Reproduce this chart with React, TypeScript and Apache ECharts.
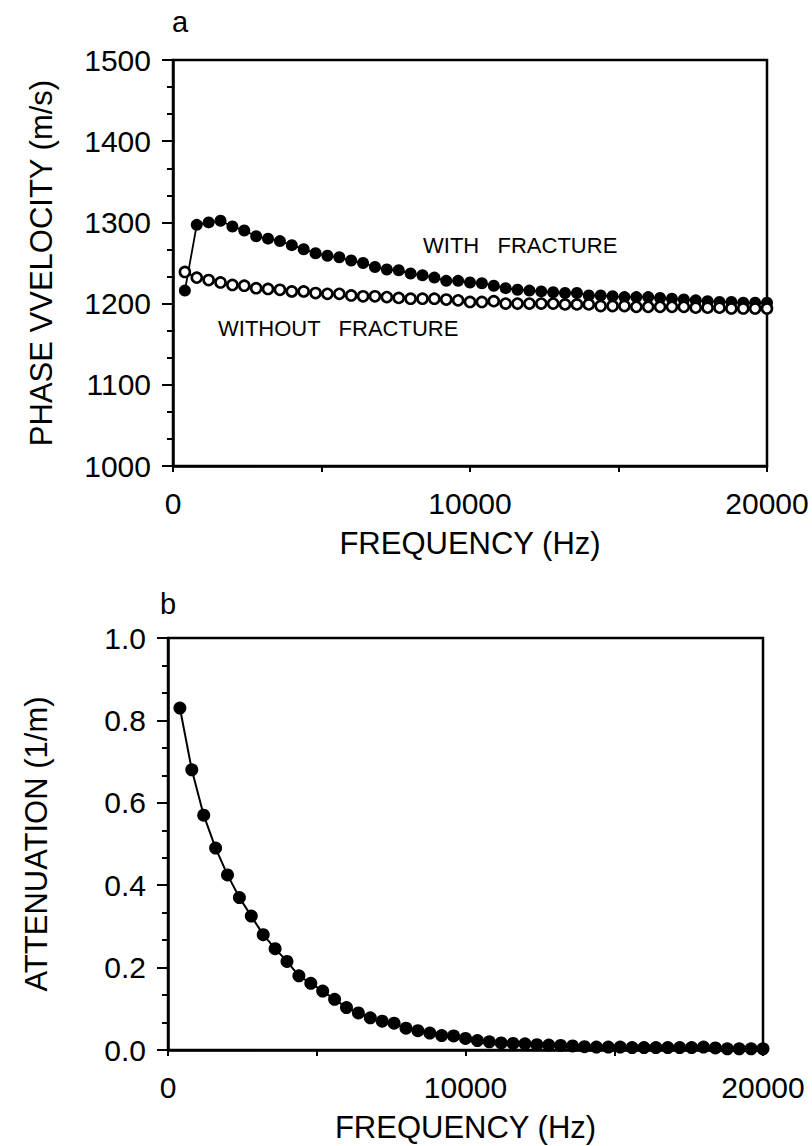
import React, { useEffect, useRef } from "react";
import * as echarts from "echarts";

const freqHz = [
  400, 800, 1200, 1600, 2000, 2400, 2800, 3200, 3600, 4000,
  4400, 4800, 5200, 5600, 6000, 6400, 6800, 7200, 7600, 8000,
  8400, 8800, 9200, 9600, 10000, 10400, 10800, 11200, 11600, 12000,
  12400, 12800, 13200, 13600, 14000, 14400, 14800, 15200, 15600, 16000,
  16400, 16800, 17200, 17600, 18000, 18400, 18800, 19200, 19600, 20000,
];

const withFracture = [
  1216, 1297, 1300, 1302, 1295, 1290, 1283, 1280, 1277, 1272,
  1267, 1262, 1259, 1257, 1253, 1250, 1245, 1242, 1241, 1237,
  1235, 1232, 1228, 1228, 1226, 1225, 1222, 1219, 1217, 1216,
  1215, 1214, 1213, 1213, 1210, 1210, 1209, 1208, 1208, 1208,
  1207, 1206, 1205, 1204, 1203, 1202, 1202, 1201, 1201, 1201,
];

const withoutFracture = [
  1239, 1232, 1229, 1226, 1223, 1222, 1219, 1218, 1217, 1215,
  1215, 1213, 1212, 1212, 1210, 1209, 1209, 1208, 1207, 1206,
  1206, 1206, 1205, 1204, 1202, 1202, 1203, 1200, 1200, 1200,
  1200, 1200, 1199, 1199, 1199, 1197, 1197, 1197, 1196, 1196,
  1196, 1196, 1196, 1195, 1195, 1195, 1194, 1194, 1194, 1194,
];

const attenuation = [
  0.83, 0.68, 0.57, 0.49, 0.425, 0.37, 0.325, 0.28, 0.246, 0.215,
  0.18, 0.162, 0.143, 0.123, 0.103, 0.09, 0.078, 0.07, 0.065, 0.053,
  0.047, 0.041, 0.035, 0.034, 0.028, 0.023, 0.02, 0.017, 0.016, 0.015,
  0.013, 0.012, 0.011, 0.01, 0.008, 0.007, 0.007, 0.007, 0.006, 0.006,
  0.006, 0.006, 0.006, 0.006, 0.007, 0.005, 0.003, 0.003, 0.003, 0.003,
];

const xTickLabels = ["0", "10000", "20000"];
const panelLabels = ["a", "b"];
const curveLabels = ["WITH   FRACTURE", "WITHOUT   FRACTURE"];

const FONT = "'Liberation Sans', Arial, Helvetica, sans-serif";
const INK = "#000";

function xAxisFor(gridIndex: number) {
  return {
    type: "value",
    gridIndex,
    min: 0,
    max: 20000,
    interval: 5000,
    name: "FREQUENCY (Hz)",
    nameLocation: "middle",
    nameGap: 62,
    nameTextStyle: { fontSize: 31, color: INK, fontFamily: FONT },
    axisLine: { show: true, lineStyle: { color: INK, width: 2.5 } },
    axisTick: { show: true, inside: false, length: 6, lineStyle: { color: INK, width: 2 } },
    axisLabel: {
      fontSize: 30,
      color: INK,
      fontFamily: FONT,
      margin: 22,
      formatter: (v: number) => (xTickLabels.includes(String(v)) ? String(v) : ""),
    },
    splitLine: { show: false },
  };
}

function yAxisFor(gridIndex: number, name: string, min: number, max: number, interval: number, fmt: (v: number) => string) {
  return {
    type: "value",
    gridIndex,
    position: "left",
    min,
    max,
    interval,
    name,
    nameLocation: "middle",
    nameGap: 116,
    nameTextStyle: { fontSize: 31, color: INK, fontFamily: FONT },
    axisLine: { show: true, lineStyle: { color: INK, width: 2.5 } },
    axisTick: { show: true, inside: false, length: 11, lineStyle: { color: INK, width: 2 } },
    minorTick: { show: true, splitNumber: 3, length: 6, lineStyle: { color: INK, width: 2 } },
    axisLabel: { fontSize: 30, color: INK, fontFamily: FONT, margin: 22, formatter: fmt },
    splitLine: { show: false },
    minorSplitLine: { show: false },
  };
}

export default function App() {
  const ref = useRef<HTMLDivElement>(null);

  useEffect(() => {
    if (!ref.current) return;
    const chart = echarts.init(ref.current, undefined, { renderer: "svg" });
    const top = freqHz.map((f, i) => [f, withFracture[i]]);
    const topOpen = freqHz.map((f, i) => [f, withoutFracture[i]]);
    const bottom = freqHz.map((f, i) => [f, attenuation[i]]);

    chart.setOption({
      animation: false,
      backgroundColor: "#fff",
      textStyle: { fontFamily: FONT, color: INK },
      grid: [
        { left: 173, top: 60, width: 594, height: 406, show: true, borderColor: INK, borderWidth: 2.5, backgroundColor: "transparent" },
        { left: 168, top: 638, width: 595, height: 412, show: true, borderColor: INK, borderWidth: 2.5, backgroundColor: "transparent" },
      ],
      xAxis: [xAxisFor(0), xAxisFor(1)],
      yAxis: [
        yAxisFor(0, "PHASE VVELOCITY (m/s)", 1000, 1500, 100, (v: number) => String(v)),
        yAxisFor(1, "ATTENUATION (1/m)", 0, 1, 0.2, (v: number) => v.toFixed(1)),
      ],
      series: [
        {
          type: "line",
          name: "WITH FRACTURE",
          xAxisIndex: 0,
          yAxisIndex: 0,
          data: top,
          symbol: "circle",
          symbolSize: 12,
          showAllSymbol: true,
          itemStyle: { color: INK, borderColor: INK, borderWidth: 0 },
          lineStyle: { color: INK, width: 1.8 },
        },
        {
          type: "line",
          name: "WITHOUT FRACTURE",
          xAxisIndex: 0,
          yAxisIndex: 0,
          data: topOpen,
          symbol: "circle",
          symbolSize: 10,
          showAllSymbol: true,
          itemStyle: { color: "#fff", borderColor: INK, borderWidth: 2.6 },
          lineStyle: { color: INK, width: 1.8 },
        },
        {
          type: "line",
          name: "ATTENUATION",
          xAxisIndex: 1,
          yAxisIndex: 1,
          data: bottom,
          symbol: "circle",
          symbolSize: 13,
          showAllSymbol: true,
          itemStyle: { color: INK, borderWidth: 0 },
          lineStyle: { color: INK, width: 2 },
        },
      ],
      graphic: [
        { type: "text", x: 180, y: 22, style: { text: panelLabels[0], fontSize: 29, fontFamily: FONT, fill: INK, align: "center", verticalAlign: "middle" } },
        { type: "text", x: 168, y: 604, style: { text: panelLabels[1], fontSize: 29, fontFamily: FONT, fill: INK, align: "center", verticalAlign: "middle" } },
        { type: "text", x: 423, y: 245, style: { text: curveLabels[0], fontSize: 22, fontFamily: FONT, fill: INK, align: "left", verticalAlign: "middle" } },
        { type: "text", x: 218, y: 328, style: { text: curveLabels[1], fontSize: 22, fontFamily: FONT, fill: INK, align: "left", verticalAlign: "middle" } },
      ],
    });

    return () => chart.dispose();
  }, []);

  return (
    <div
      ref={ref}
      style={{ position: "absolute", left: 0, top: 0, width: 812, height: 1146, background: "#fff" }}
    />
  );
}
